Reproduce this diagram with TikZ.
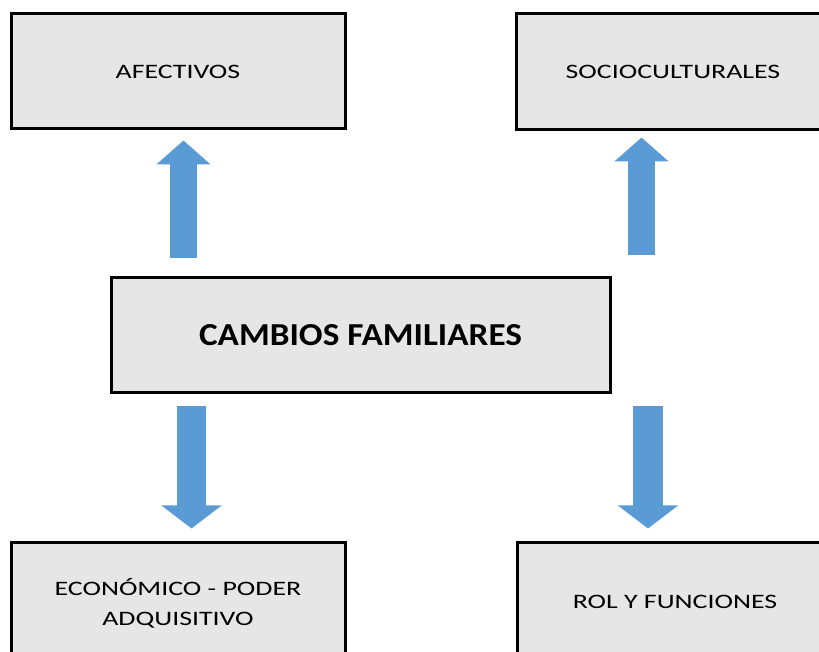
\documentclass[tikz,border=0pt]{standalone}
\usepackage{fontspec}
\setmainfont{Carlito}
\newfontfamily\widefont[FakeStretch=1.36]{Carlito}
\newfontfamily\titlefont[FakeStretch=1.1]{Carlito}
\usetikzlibrary{calc, arrows.meta}
\definecolor{boxgrey}{HTML}{E6E6E6}
\definecolor{arrowblue}{HTML}{5B9BD5}

\begin{document}
\begin{tikzpicture}[x=1pt, y=1pt,
    box/.style={draw, line width=3pt, fill=boxgrey, rectangle, align=center,
        inner sep=0pt, font=\widefont\fontsize{20.5}{30}\selectfont},
    bluearrow/.style={arrowblue, line width=27pt,
        -{Triangle[width=53pt, length=24pt]}}]
    \useasboundingbox (0,0) rectangle (819,652);
    \clip (0,0) rectangle (819,652);

    % Boxes
    \node[box, minimum width=334pt, minimum height=115pt] (afectivos) at (178,580.5) {AFECTIVOS};
    \node[box, minimum width=314pt, minimum height=116pt] (socio) at (673,580) {SOCIOCULTURALES};
    \node[box, minimum width=499pt, minimum height=115pt,
        font=\titlefont\fontsize{32}{38}\selectfont\bfseries] (cambios) at (360.5,316.5) {CAMBIOS FAMILIARES};
    \node[box, minimum width=334pt, minimum height=120pt] (economico) at (178,49) {ECONÓMICO - PODER\\ADQUISITIVO};
    \node[box, minimum width=316pt, minimum height=118pt] (rol) at (675,50.5) {ROL Y FUNCIONES};

    % Arrows
    \draw[bluearrow] ($(cambios.north -| afectivos.south)+(5.5,18)$) -- ($(afectivos.south)+(5.5,-10)$);
    \draw[bluearrow] ($(cambios.north -| socio.south)+(-31.5,21)$) -- ($(socio.south)+(-31.5,-6)$);
    \draw[bluearrow, line width=29pt, -{Triangle[width=59pt, length=23pt]}]
        ($(cambios.south -| economico.north)+(13.5,-12)$) -- ($(economico.north)+(13.5,13)$);
    \draw[bluearrow, line width=30pt, -{Triangle[width=59pt, length=23pt]}]
        ($(cambios.south -| rol.north)+(-27,-12)$) -- ($(rol.north)+(-27,12.5)$);
\end{tikzpicture}
\end{document}
